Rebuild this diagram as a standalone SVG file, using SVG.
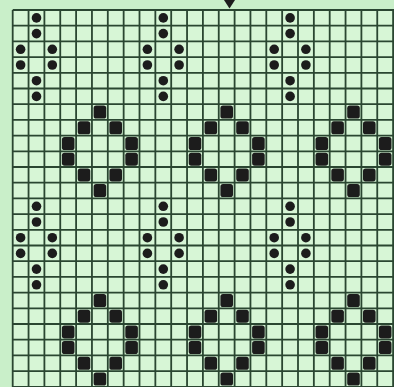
<svg xmlns="http://www.w3.org/2000/svg" xmlns:xlink="http://www.w3.org/1999/xlink" width="394" height="387" viewBox="0 0 394 387">
<style>
.grid{stroke:#2a4631;stroke-width:1.8;fill:none}
.mark{fill:#1c1c1c}
</style>
<defs>
<circle id="dot" class="mark" cx="0" cy="0" r="4.8"/>
<rect id="sq" class="mark" x="-6.3" y="-6.5" width="12.6" height="13" rx="2.6"/>
<g id="dots">
<use href="#dot" x="36.5" y="17.9"/><use href="#dot" x="36.5" y="33.6"/>
<use href="#dot" x="20.6" y="49.3"/><use href="#dot" x="52.3" y="49.3"/>
<use href="#dot" x="20.6" y="65.0"/><use href="#dot" x="52.3" y="65.0"/>
<use href="#dot" x="36.5" y="80.7"/><use href="#dot" x="36.5" y="96.4"/>
</g>
<g id="diamond">
<use href="#sq" x="99.9" y="112.1"/>
<use href="#sq" x="84.0" y="127.8"/><use href="#sq" x="115.7" y="127.8"/>
<use href="#sq" x="68.2" y="143.5"/><use href="#sq" x="131.6" y="143.5"/>
<use href="#sq" x="68.2" y="159.2"/><use href="#sq" x="131.6" y="159.2"/>
<use href="#sq" x="84.0" y="174.9"/><use href="#sq" x="115.7" y="174.9"/>
<use href="#sq" x="99.9" y="190.6"/>
</g>
<g id="motif"><use href="#dots"/><use href="#diamond"/></g>
</defs>
<rect width="394" height="387" fill="#c9efc9"/>
<rect x="12.7" y="10" width="381.3" height="377" fill="#d7f6d6"/>
<g id="grid" class="grid">
<path d="M12.7 10V387M28.55 10V387M44.4 10V387M60.25 10V387M76.1 10V387M91.95 10V387M107.8 10V387M123.65 10V387M139.5 10V387M155.35 10V387M171.2 10V387M187.05 10V387M202.9 10V387M218.75 10V387M234.6 10V387M250.45 10V387M266.3 10V387M282.15 10V387M298 10V387M313.85 10V387M329.7 10V387M345.55 10V387M361.4 10V387M377.25 10V387M393.1 10V387"/>
<path d="M12.7 10H394M12.7 25.7H394M12.7 41.4H394M12.7 57.1H394M12.7 72.8H394M12.7 88.5H394M12.7 104.2H394M12.7 119.9H394M12.7 135.6H394M12.7 151.3H394M12.7 167H394M12.7 182.7H394M12.7 198.4H394M12.7 214.1H394M12.7 229.8H394M12.7 245.5H394M12.7 261.2H394M12.7 276.9H394M12.7 292.6H394M12.7 308.3H394M12.7 324H394M12.7 339.7H394M12.7 355.4H394M12.7 371.1H394M12.7 386.8H394"/>
</g>
<g id="marker"><polygon points="224,0 235,0 229.5,8.5" fill="#1c1c1c"/></g>
<g id="motifs">
<use id="m1" href="#motif"/>
<use id="m2" href="#motif" x="126.8"/>
<use id="m3" href="#motif" x="253.6"/>
<use id="m4" href="#motif" y="188.4"/>
<use id="m5" href="#motif" x="126.8" y="188.4"/>
<use id="m6" href="#motif" x="253.6" y="188.4"/>
</g>
</svg>
